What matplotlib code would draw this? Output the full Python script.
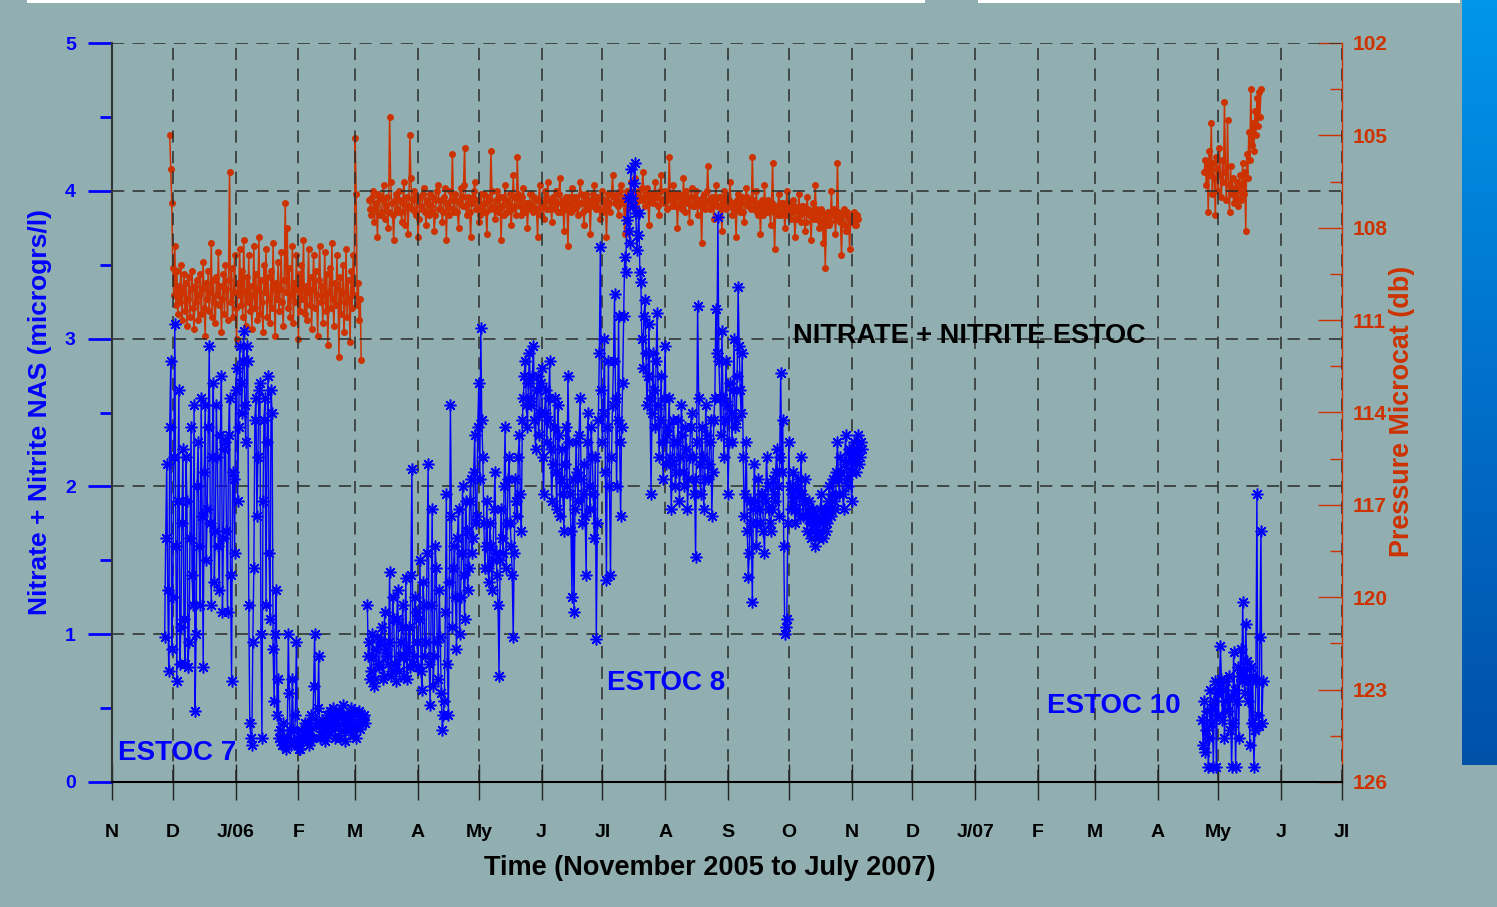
import numpy as np
import matplotlib
matplotlib.use("Agg")
import matplotlib.pyplot as plt
from matplotlib.patches import Rectangle
from matplotlib.colors import LinearSegmentedColormap
from matplotlib.ticker import MultipleLocator

plt.rcParams['font.family'] = ['Liberation Sans', 'DejaVu Sans']
plt.rcParams['font.weight'] = 'bold'

BG = '#91afb1'
BLUE = '#0000ff'
RED = '#cc3300'

month_labels = ['N', 'D', 'J/06', 'F', 'M', 'A', 'My', 'J', 'Jl', 'A', 'S', 'O',
                'N', 'D', 'J/07', 'F', 'M', 'A', 'My', 'J', 'Jl']

# nitrate + nitrite (microgrs/l), daily readings plus the readings in between
no3_e7_start = '2005-11-27'
no3_e7 = [0.98, 2.15, 0.75, 2.85, 1.25, 3.10, 0.68, 2.65, 1.05, 2.25,
          0.80, 1.90, 0.95, 2.40, 1.20, 0.48, 2.00, 1.60, 2.60, 0.78,
          2.55, 1.85, 2.95, 1.20, 2.70, 1.70, 2.20, 1.30, 2.75, 1.65,
          2.30, 1.15, 2.60, 0.68, 2.05, 2.65, 1.90, 2.95, 2.50, 3.05,
          2.30, 2.85, 0.40, 0.25, 1.45, 2.60, 2.20, 2.70, 0.30, 2.45,
          1.20, 2.75, 1.10, 2.50, 0.55, 1.30, 0.70, 0.35, 0.25, 0.30,
          0.22, 1.00, 0.35, 0.70, 0.28, 0.95, 0.25, 0.22, 0.30, 0.40,
          0.35, 0.25, 0.45, 0.30, 1.00, 0.40, 0.85, 0.32, 0.40, 0.28,
          0.45, 0.38, 0.42, 0.50, 0.30, 0.42, 0.48, 0.35, 0.52, 0.28,
          0.46, 0.40, 0.50, 0.32, 0.45, 0.38, 0.48, 0.42, 0.44, 0.40]
no3_e7_mid = [1.65, 1.30, 2.40, 0.90, 2.20, 1.60, 1.90, 0.80, 1.75, 1.10,
              2.20, 0.78, 1.65, 1.40, 2.55, 1.00, 2.30, 1.20, 1.80, 2.10,
              1.50, 2.40, 1.75, 2.20, 1.35, 2.55, 1.60, 2.35, 1.15, 2.25,
              1.70, 2.35, 1.40, 2.10, 1.55, 2.80, 2.40, 2.70, 2.85, 2.55,
              2.95, 1.20, 0.30, 0.95, 2.45, 1.80, 2.65, 1.00, 1.90, 2.60,
              2.30, 1.55, 2.65, 0.90, 1.00, 0.45, 0.30, 0.28, 0.40, 0.25,
              0.30, 0.60, 0.25, 0.35, 0.45, 0.30, 0.22, 0.35, 0.28, 0.30,
              0.40, 0.35, 0.30, 0.65, 0.38, 0.50, 0.30, 0.42, 0.35, 0.40,
              0.32, 0.48, 0.35, 0.40, 0.45, 0.38, 0.30, 0.45, 0.40, 0.36,
              0.42, 0.35, 0.40, 0.48, 0.30, 0.46, 0.36, 0.40, 0.45]

no3_e8_start = '2006-03-07'
no3_e8 = [1.20, 0.95, 0.75, 0.85, 0.70, 0.98, 0.78, 1.05, 0.72, 0.90,
          0.80, 1.42, 0.75, 1.10, 0.68, 1.30, 0.85, 1.05, 0.72, 1.38,
          0.90, 0.78, 2.12, 0.85, 1.15, 0.78, 1.50, 0.62, 1.20, 0.95,
          2.15, 0.52, 1.85, 0.85, 1.45, 0.70, 0.98, 0.35, 0.55, 1.95,
          0.45, 2.55, 1.05, 1.60, 0.90, 1.85, 1.25, 2.00, 1.10, 1.70,
          1.45, 2.05, 1.65, 2.35, 1.80, 2.70, 3.07, 2.20, 1.45, 1.90,
          1.35, 1.60, 1.50, 2.10, 1.40, 0.72, 1.85, 1.55, 2.40, 1.75,
          2.20, 1.60, 0.98, 2.05, 1.80, 2.35, 1.70, 2.60, 2.85, 2.40,
          2.90, 2.55, 2.95, 2.25, 2.75, 2.50, 2.80, 1.95, 2.65, 2.45,
          2.85, 1.90, 2.40, 2.10, 2.55, 1.80, 2.25, 1.70, 2.40, 2.75,
          1.95, 1.25, 1.15, 2.30, 1.90, 2.60, 1.75, 2.15, 1.40, 2.50,
          1.85, 2.20, 1.65, 0.97, 2.45, 3.62, 2.30, 3.00, 1.37, 2.85,
          1.40, 2.55, 3.30, 2.00, 3.15, 1.80, 2.70, 3.55, 3.80, 3.73,
          4.15, 3.90, 4.19, 3.60, 3.85, 3.38, 2.80, 3.26, 2.55, 3.10,
          1.95, 2.90, 2.40, 3.17, 2.20, 2.75, 2.05, 2.95, 2.35, 2.60,
          1.85, 2.45, 2.00, 2.30, 1.90, 2.55, 2.10, 2.40, 1.85, 2.20,
          2.50, 1.95, 1.52, 3.22, 2.15, 2.40, 1.85, 2.55, 2.05, 2.30,
          1.80, 2.45, 3.20, 3.82, 2.60, 3.05, 2.20, 2.85, 1.95, 2.70,
          2.30, 3.00, 2.45, 3.35, 2.65, 2.90, 1.80, 2.30, 1.39, 1.90,
          1.22, 2.15, 1.60, 2.05, 1.75, 1.95, 1.55, 2.20, 1.85, 1.70,
          2.05, 1.90, 2.25, 1.80, 2.77, 2.45, 1.00, 1.10, 2.30, 1.85,
          2.10, 1.75, 2.00, 1.95, 2.20, 1.80, 2.05, 1.70, 1.90, 1.65,
          1.85, 1.60, 1.80, 1.70, 1.95, 1.65, 1.85, 1.75, 2.00, 1.80,
          2.05, 1.85, 2.30, 1.95, 2.10, 1.85, 2.35, 2.00, 2.20, 1.90,
          2.30, 2.10, 2.35, 2.20, 2.25]
no3_e8_mid = [0.85, 0.70, 1.00, 0.65, 0.90, 0.80, 0.95, 0.70, 1.15, 0.85,
              0.95, 0.72, 1.25, 0.80, 1.10, 0.75, 0.95, 1.20, 0.85, 0.70,
              1.05, 1.40, 0.80, 1.25, 0.95, 1.10, 0.75, 1.35, 0.85, 1.55,
              0.80, 1.20, 0.65, 1.60, 0.95, 1.30, 0.60, 0.45, 1.15, 0.80,
              1.35, 1.80, 1.45, 1.25, 1.65, 1.00, 1.55, 1.40, 1.90, 1.30,
              1.90, 1.55, 2.10, 1.75, 2.40, 2.05, 2.45, 1.75, 1.60, 1.45,
              1.75, 1.30, 1.85, 1.55, 1.20, 1.50, 1.65, 2.00, 1.45, 2.05,
              1.75, 1.40, 1.55, 1.90, 2.20, 1.95, 2.45, 2.75, 2.55, 2.70,
              2.60, 2.75, 2.45, 2.65, 2.35, 2.70, 2.20, 2.50, 2.30, 2.60,
              2.25, 2.15, 2.60, 1.85, 2.35, 2.05, 1.95, 2.15, 2.00, 2.30,
              1.70, 2.05, 1.85, 2.10, 2.35, 2.05, 1.95, 1.80, 2.30, 2.00,
              2.40, 1.95, 2.20, 1.75, 2.90, 2.65, 2.50, 2.10, 2.40, 2.00,
              2.20, 2.85, 2.60, 2.45, 2.30, 2.40, 3.15, 3.45, 3.95, 3.65,
              3.95, 4.05, 3.85, 3.70, 3.45, 3.00, 3.15, 2.90, 2.75, 2.60,
              2.50, 2.65, 2.85, 2.55, 2.45, 2.30, 2.60, 2.15, 2.40, 2.20,
              2.15, 2.30, 2.10, 2.45, 2.20, 2.35, 2.00, 2.25, 2.05, 2.40,
              2.20, 2.05, 2.30, 2.60, 1.95, 2.20, 2.05, 2.35, 2.15, 2.45,
              2.10, 2.60, 2.90, 2.85, 2.35, 2.60, 2.45, 2.55, 2.30, 2.50,
              2.65, 2.40, 2.75, 2.95, 2.50, 2.20, 1.95, 1.70, 1.55, 1.75,
              1.85, 1.90, 1.75, 1.85, 1.95, 1.70, 1.90, 2.00, 1.75, 1.85,
              1.95, 2.10, 2.00, 2.20, 2.10, 1.60, 1.05, 1.75, 2.00, 1.95,
              1.90, 1.85, 2.05, 1.80, 1.95, 1.90, 1.80, 1.85, 1.75, 1.80,
              1.70, 1.75, 1.65, 1.85, 1.75, 1.80, 1.70, 1.90, 1.85, 1.95,
              1.90, 2.10, 2.05, 2.20, 1.95, 2.15, 2.05, 2.25, 2.10, 2.15,
              2.20, 2.25, 2.15, 2.30]

# ESTOC 10 readings every half day
no3_e10_start = '2007-04-23'
no3_e10 = [0.42, 0.25, 0.55, 0.20, 0.35, 0.48, 0.10, 0.30, 0.62, 0.40,
           0.50, 0.10, 0.55, 0.68, 0.10, 0.60, 0.45, 0.65, 0.92, 0.70,
           0.42, 0.62, 0.30, 0.55, 0.68, 0.48, 0.72, 0.35, 0.58, 0.10,
           0.40, 0.88, 0.62, 0.10, 0.55, 0.78, 0.30, 0.72, 0.90, 0.68,
           1.22, 0.75, 0.60, 1.07, 0.82, 0.55, 0.70, 0.25, 0.78, 0.40,
           0.72, 0.10, 0.35, 0.68, 1.95, 0.45, 0.38, 0.98, 1.70, 0.40,
           0.68]

# pressure microcat (db)
pres_e7_start = '2005-11-29T12'   # every half day
pres_e7 = [105.0, 106.1, 107.2, 109.3, 110.2, 108.6, 110.5, 109.4, 110.8, 109.9,
           110.4, 109.2, 111.0, 110.1, 109.5, 110.7, 109.8, 111.2, 110.3, 109.6,
           110.9, 110.0, 109.4, 110.6, 111.3, 109.9, 110.4, 109.7, 111.0, 110.2,
           109.5, 110.8, 110.0, 109.1, 110.6, 111.5, 109.8, 110.3, 109.4, 110.7,
           110.1, 108.5, 110.9, 109.7, 110.4, 111.1, 109.6, 110.2, 108.8, 110.5,
           109.9, 111.4, 110.3, 109.5, 110.8, 109.2, 110.0, 111.0, 109.7, 106.2,
           110.4, 109.3, 110.9, 110.1, 108.9, 110.6, 111.6, 109.8, 110.2, 108.7,
           110.5, 109.4, 110.9, 108.4, 110.1, 111.2, 109.6, 110.4, 108.9, 110.7,
           109.9, 111.3, 110.2, 108.6, 110.6, 109.5, 111.0, 110.0, 108.3, 110.8,
           109.7, 110.4, 111.4, 109.2, 110.1, 108.7, 110.9, 109.6, 110.3, 111.1,
           109.4, 110.6, 108.5, 110.0, 111.5, 109.8, 110.3, 109.1, 110.7, 110.0,
           108.8, 110.4, 111.2, 109.7, 107.2, 110.1, 108.0, 110.6, 109.3, 110.9,
           110.2, 108.6, 111.1, 109.8, 110.4, 108.9, 110.0, 111.6, 109.5, 110.7,
           109.2, 110.3, 108.4, 110.8, 109.9, 111.0, 110.1, 108.7, 110.5, 109.6,
           111.3, 110.0, 108.9, 110.6, 109.4, 110.2, 111.5, 109.7, 108.6, 110.4,
           109.9, 111.1, 110.2, 108.8, 110.7, 109.5, 111.8, 110.1, 109.3, 110.6,
           108.5, 110.3, 111.2, 109.8, 110.5, 108.9, 110.0, 112.2, 109.6, 110.8,
           110.1, 109.2, 111.4, 110.4, 108.7, 110.9, 109.7, 110.3, 111.7, 109.4,
           110.6, 108.9, 110.2, 105.1, 106.9, 110.5, 109.8, 111.0, 110.3, 112.3]

pres_e8_start = '2006-03-08'
pres_e8 = [107.1, 107.6, 106.8, 107.4, 108.3, 107.0, 107.5, 106.6, 107.3, 108.0,
           104.4, 107.2, 108.4, 106.9, 107.5, 107.1, 107.8, 106.5, 107.3, 108.2,
           105.0, 107.4, 106.8, 107.6, 108.3, 107.0, 107.4, 106.7, 107.9, 107.2,
           106.9, 107.5, 108.1, 107.1, 106.6, 107.4, 107.8, 107.0, 108.4, 107.3,
           106.8, 105.6, 107.5, 107.1, 108.0, 106.7, 107.3, 105.4, 107.6, 107.2,
           108.3, 107.0, 106.5, 107.4, 107.8, 106.9, 107.5, 107.2, 108.2, 107.1,
           105.5, 107.3, 107.7, 106.8, 107.4, 108.4, 107.0, 106.6, 107.5, 107.2,
           107.9, 106.3, 107.3, 105.7, 107.1, 107.6, 106.7, 107.4, 108.0, 107.2,
           106.9, 107.5, 107.1, 108.3, 106.6, 107.3, 107.7, 107.0, 106.5, 107.4,
           107.8, 107.1, 106.8, 107.5, 106.4, 107.2, 108.1, 107.0, 108.6, 107.3,
           106.7, 107.4, 107.0, 107.6, 106.5, 107.2, 107.9, 106.9, 107.3, 108.2,
           107.1, 106.6, 107.4, 107.0, 107.7, 106.8, 107.2, 108.3, 106.9, 107.5,
           106.3, 107.2, 106.9, 107.6, 106.6, 107.1, 108.2, 106.8, 107.3, 106.5,
           107.0, 106.4, 107.4, 106.8, 107.1, 106.2, 107.3, 106.7, 107.9, 106.9,
           107.2, 106.5, 107.0, 107.6, 106.3, 107.1, 106.8, 107.4, 105.7, 107.0,
           106.6, 107.3, 108.0, 106.9, 107.2, 106.4, 107.5, 107.0, 107.8, 106.7,
           107.3, 106.8, 107.6, 107.1, 108.5, 106.9, 107.2, 106.0, 107.4, 107.0,
           107.7, 106.6, 107.3, 107.0, 108.1, 106.8, 107.4, 107.1, 106.5, 107.6,
           107.2, 108.3, 106.9, 107.5, 107.0, 107.8, 106.7, 107.3, 107.1, 105.7,
           107.4, 106.8, 107.6, 108.2, 107.1, 106.6, 107.5, 107.2, 107.9, 105.9,
           108.7, 107.3, 106.9, 107.6, 107.2, 108.0, 106.8, 107.4, 107.7, 107.1,
           108.3, 107.5, 106.9, 107.8, 107.3, 108.1, 107.0, 107.6, 108.4, 107.2,
           106.6, 107.7, 108.0, 107.4, 108.5, 109.3, 107.6, 107.9, 106.8, 107.5,
           108.2, 105.9, 107.7, 108.9, 107.4, 108.1, 107.6, 108.7, 107.8, 107.5,
           107.9, 107.7]
pres_e8_mid = [107.4, 107.0, 107.8, 107.2, 106.9, 107.6, 107.1, 107.7, 107.0, 107.5,
               106.5, 107.6, 107.1, 107.4, 106.8, 107.5, 107.2, 107.9, 107.0, 107.3,
               106.4, 107.1, 107.5, 107.0, 107.7, 107.3, 106.9, 107.5, 107.1, 107.6,
               107.3, 107.0, 107.6, 106.8, 107.4, 107.1, 107.5, 106.7, 107.2, 107.6,
               107.1, 107.4, 106.9, 107.5, 107.2, 107.0, 106.6, 107.3, 107.0, 107.5,
               107.2, 106.8, 107.4, 107.1, 107.6, 107.3, 106.9, 107.5, 107.0, 107.4,
               106.8, 107.4, 107.1, 107.5, 107.0, 107.3, 107.6, 107.1, 107.3, 106.9,
               107.4, 107.0, 107.6, 106.9, 107.3, 107.0, 107.5, 107.2, 107.4, 106.9,
               107.3, 107.0, 107.4, 107.1, 107.6, 107.2, 106.8, 107.4, 107.1, 107.2,
               107.0, 107.4, 107.2, 106.9, 107.5, 107.1, 107.4, 107.2, 107.0, 107.5,
               107.1, 107.0, 107.3, 107.2, 106.9, 107.5, 107.0, 107.4, 107.1, 107.3,
               106.9, 107.3, 107.1, 107.4, 107.0, 107.5, 107.1, 107.3, 107.2, 106.9,
               107.0, 107.1, 107.3, 106.8, 107.2, 107.0, 107.4, 106.9, 107.1, 107.0,
               106.8, 107.2, 106.9, 107.1, 106.7, 107.0, 106.9, 107.2, 107.0, 107.1,
               106.9, 107.0, 107.3, 106.8, 107.1, 107.2, 107.0, 107.1, 106.9, 107.3,
               107.1, 106.9, 107.3, 107.0, 107.4, 107.1, 106.8, 107.2, 107.0, 107.3,
               107.0, 107.2, 107.1, 107.3, 107.0, 107.4, 106.8, 107.1, 107.2, 107.3,
               107.1, 107.3, 107.0, 107.4, 107.2, 107.0, 107.3, 107.1, 107.3, 107.2,
               107.4, 107.1, 107.3, 107.2, 107.5, 107.2, 107.0, 107.2, 107.4, 107.1,
               107.3, 107.5, 107.2, 107.4, 107.6, 107.3, 107.1, 107.4, 107.2, 107.5,
               107.4, 107.6, 107.2, 107.5, 107.3, 107.6, 107.4, 107.2, 107.5, 107.3,
               107.7, 107.4, 107.6, 107.3, 107.5, 107.8, 107.4, 107.6, 107.5, 107.7,
               107.4, 107.6, 107.8, 107.5, 107.7, 107.9, 107.5, 107.8, 107.6, 107.4,
               107.7, 107.5, 107.8, 107.6, 107.9, 107.5, 107.7, 107.8, 107.6, 107.9,
               107.6]

pres_e10_start = '2007-04-24'     # every half day
pres_e10 = [106.2, 105.8, 106.6, 106.0, 107.5, 105.5, 106.3, 104.6, 106.9, 105.9,
            106.4, 107.6, 105.7, 106.1, 106.8, 105.4, 106.3, 107.0, 105.8, 106.5,
            103.9, 106.2, 107.1, 104.5, 106.6, 107.5, 106.0, 106.9, 106.4, 107.2,
            106.7, 107.0, 106.5, 107.3, 106.8, 106.3, 107.1, 106.6, 105.9, 106.9,
            106.2, 108.1, 105.6, 106.4, 104.9, 105.8, 103.5, 105.3, 104.6, 105.5,
            104.2, 105.0, 103.8, 104.7, 103.6, 104.4, 103.5]

t0 = np.datetime64('2005-11-01T00')


def days(start, step, n, offset=0.0):
    d0 = (np.datetime64(start, 'h') - t0).astype(float) / 24.0
    return d0 + offset + step * np.arange(n)


def merged(start, main, mid):
    t = np.concatenate([days(start, 1.0, len(main)), days(start, 1.0, len(mid), 0.5)])
    v = np.concatenate([main, mid])
    order = np.argsort(t)
    return t[order], v[order]


months = np.arange(np.datetime64('2005-11'), np.datetime64('2007-08'), dtype='datetime64[M]')
month_days = (months.astype('datetime64[D]') - np.datetime64('2005-11-01')).astype(int)

fig = plt.figure(figsize=(14.97, 9.07), dpi=100, facecolor=BG)

# slide decorations
fig.add_artist(Rectangle((27 / 1497, 1 - 3 / 907), 898 / 1497, 3 / 907,
                         transform=fig.transFigure, color='white', lw=0))
fig.add_artist(Rectangle((978 / 1497, 1 - 3 / 907), 482 / 1497, 3 / 907,
                         transform=fig.transFigure, color='white', lw=0))
strip = fig.add_axes([1462 / 1497, 1 - 765 / 907, 35 / 1497, 765 / 907])
strip.imshow(np.linspace(0, 1, 256)[:, None], aspect='auto',
             cmap=LinearSegmentedColormap.from_list('strip', ['#0096e8', '#0070cc', '#0050a8']))
strip.axis('off')

ax = fig.add_axes([112 / 1497, 1 - 782 / 907, 1230 / 1497, 739 / 907])
ax2 = ax.twinx()
ax.set_zorder(ax2.get_zorder() + 1)
ax.patch.set_visible(False)
ax2.patch.set_visible(False)

pres_series = [(days(pres_e7_start, 0.5, len(pres_e7)), pres_e7),
               merged(pres_e8_start, pres_e8, pres_e8_mid),
               (days(pres_e10_start, 0.5, len(pres_e10)), pres_e10)]
for t, p in pres_series:
    ax2.plot(t, p, color=RED, lw=1.1, marker='o', ms=4)

no3_series = [merged(no3_e7_start, no3_e7, no3_e7_mid),
              merged(no3_e8_start, no3_e8, no3_e8_mid),
              (days(no3_e10_start, 0.5, len(no3_e10)), no3_e10)]
for t, v in no3_series:
    ax.plot(t, v, color=BLUE, lw=1, marker=(8, 2, 0), ms=8.5, mew=1.1)

ax.set_xlim(month_days[0], month_days[-1])
ax.set_ylim(0, 5)
ax2.set_ylim(126, 102)

ax.set_xticks(month_days)
ax.set_xticklabels(month_labels)
ax.yaxis.set_major_locator(MultipleLocator(1))
ax.yaxis.set_minor_locator(MultipleLocator(0.5))
ax2.yaxis.set_major_locator(MultipleLocator(3))
ax2.yaxis.set_minor_locator(MultipleLocator(1.5))

ax.grid(True, which='major', color='#2a2a2a', ls=(0, (8, 5.5)), lw=1.1)

ax.spines['top'].set_visible(False)
ax.spines['right'].set_visible(False)
ax.spines['left'].set_color('#333333')
ax.spines['left'].set_linewidth(1.5)
ax.spines['bottom'].set_color('black')
ax.spines['bottom'].set_linewidth(1.5)
for s in ['top', 'left', 'bottom']:
    ax2.spines[s].set_visible(False)
ax2.spines['right'].set_color(RED)
ax2.spines['right'].set_linewidth(1)

ax.tick_params(axis='y', which='major', direction='out', length=17, width=2,
               color=BLUE, labelcolor=BLUE, labelsize=14, pad=9)
ax.tick_params(axis='y', which='minor', direction='out', length=8.5, width=2, color=BLUE)
ax.tick_params(axis='x', which='major', direction='inout', length=26, width=1,
               color='#222222', labelcolor='black', labelsize=14, pad=17)
ax2.tick_params(axis='y', which='major', direction='in', length=17, width=1,
                color=RED, labelcolor=RED, labelsize=15, pad=8)
ax2.tick_params(axis='y', which='minor', direction='in', length=8.5, width=1, color=RED)

ax.text(423, 3.02, 'NITRATE + NITRITE ESTOC', ha='center', va='center',
        fontsize=19.5, color='black')
ax.text(3, 0.196, 'ESTOC 7', ha='left', va='center', fontsize=20, color=BLUE)
ax.text(244.3, 0.67, 'ESTOC 8', ha='left', va='center', fontsize=20, color=BLUE)
ax.text(461.5, 0.514, 'ESTOC 10', ha='left', va='center', fontsize=20, color=BLUE)

fig.text(710 / 1497, 1 - 868 / 907, 'Time (November 2005 to July 2007)', ha='center',
         va='center', fontsize=19.5)
fig.text(40 / 1497, 1 - 412 / 907, 'Nitrate + Nitrite NAS (microgrs/l)', rotation=90,
         ha='center', va='center', fontsize=19, color=BLUE)
fig.text(1402 / 1497, 1 - 411 / 907, 'Pressure Microcat (db)', rotation=90,
         ha='center', va='center', fontsize=19.4, color=RED)

fig.savefig('out.png', dpi=100, facecolor=BG)
